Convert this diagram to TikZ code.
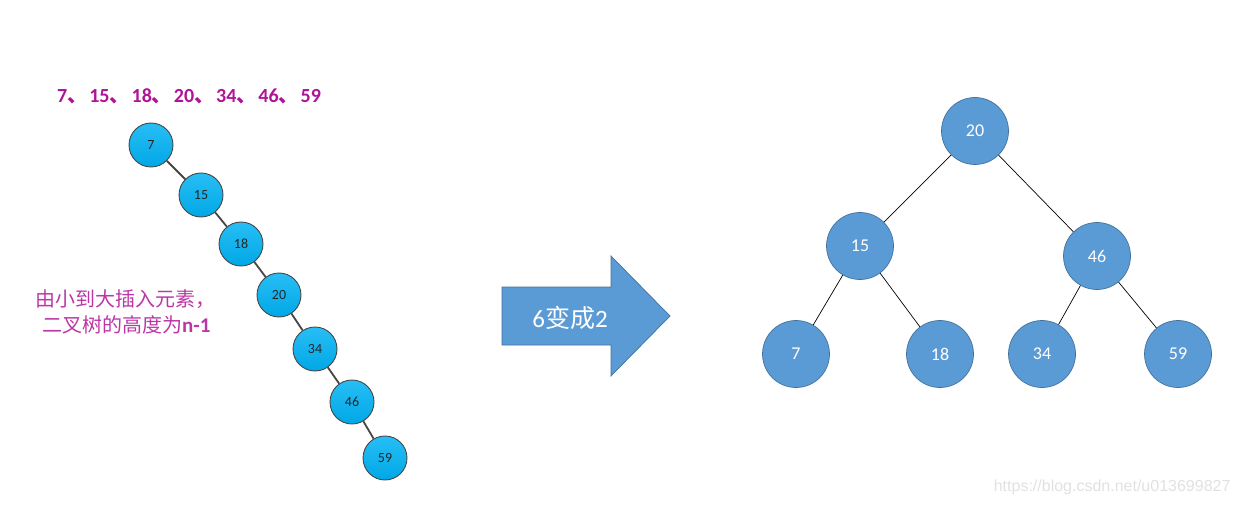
\documentclass[tikz,border=0pt]{standalone}
\usepackage{fontspec}
\setmainfont{Carlito}
\newfontfamily\cjk{Noto Sans CJK SC}
\definecolor{chainfill}{RGB}{0,168,230}
\definecolor{chainfilltop}{RGB}{40,190,245}
\definecolor{chainedge}{RGB}{70,70,70}
\definecolor{treefill}{RGB}{91,155,213}
\definecolor{treeedge}{RGB}{65,113,156}
\definecolor{magentatext}{RGB}{176,20,150}
\definecolor{wm}{RGB}{225,225,225}
\newcommand{\dun}{{\cjk 、}\hspace{2pt}}
\begin{document}
\begin{tikzpicture}[x=1pt,y=-1pt,
  chainnode/.style={circle,draw=chainedge,line width=0.9pt,top color=chainfilltop,bottom color=chainfill,minimum size=44pt,inner sep=0pt,font=\fontsize{14}{14}\selectfont,text=black!85},
  chainline/.style={draw=chainedge,line width=1.8pt},
  treenode/.style={circle,draw=treeedge,line width=0.7pt,fill=treefill,minimum size=67pt,inner sep=0pt,font=\fontsize{18}{18}\selectfont,text=white},
  treeline/.style={draw=black,line width=0.7pt},
  bigarrow/.style={fill=treefill,draw=treeedge,line width=0.7pt}]
\useasboundingbox (0,0) rectangle (1242,505);
% title
\node[text=magentatext,font=\fontsize{20}{20}\selectfont\bfseries,anchor=west,inner sep=0pt] (title) at (57,96) {7\dun 15\dun 18\dun 20\dun 34\dun 46\dun 59};
% chain
\node[chainnode] (c7) at (151,145) {7};
\node[chainnode] (c15) at (201,195) {15};
\node[chainnode] (c18) at (241,244) {18};
\node[chainnode] (c20) at (279,295) {20};
\node[chainnode] (c34) at (315,349) {34};
\node[chainnode] (c46) at (352,402) {46};
\node[chainnode] (c59) at (385,458) {59};
\draw[chainline] (c7) -- (c15);
\draw[chainline] (c15) -- (c18);
\draw[chainline] (c18) -- (c20);
\draw[chainline] (c20) -- (c34);
\draw[chainline] (c34) -- (c46);
\draw[chainline] (c46) -- (c59);
% side text
\node[text=magentatext!85,font=\fontsize{20}{20}\selectfont,anchor=west,inner sep=0pt] (note1) at (35,299) {\cjk 由小到大插入元素，};
\node[text=magentatext!85,font=\fontsize{20}{20}\selectfont,anchor=west,inner sep=0pt] (note2) at (42,325) {{\cjk 二叉树的高度为}\textbf{\fontsize{21}{21}\selectfont n-1}};
% big arrow
\draw[bigarrow] (502,287) -- (611,287) -- (611,256) -- (670,316) -- (611,376) -- (611,345) -- (502,345) -- cycle;
\node[text=white,font=\fontsize{25}{25}\selectfont] (arrowtext) at (570,318) {6{\cjk 变成}2};
% balanced tree
\node[treenode] (t20) at (975,131) {20};
\node[treenode] (t15) at (860,246) {15};
\node[treenode] (t46) at (1097,256) {46};
\node[treenode] (t7) at (796,354) {7};
\node[treenode] (t18) at (940,354) {18};
\node[treenode] (t34) at (1042,354) {34};
\node[treenode] (t59) at (1178,354) {59};
\draw[treeline] (t20) -- (t15);
\draw[treeline] (t20) -- (t46);
\draw[treeline] (t15) -- (t7);
\draw[treeline] (t15) -- (t18);
\draw[treeline] (t46) -- (t34);
\draw[treeline] (t46) -- (t59);
% watermark
\node[text=wm,font=\fontsize{16}{16}\selectfont,anchor=east] (wmark) at (1234,487) {\fontspec{Liberation Sans}https://blog.csdn.net/u013699827};
\end{tikzpicture}
\end{document}
